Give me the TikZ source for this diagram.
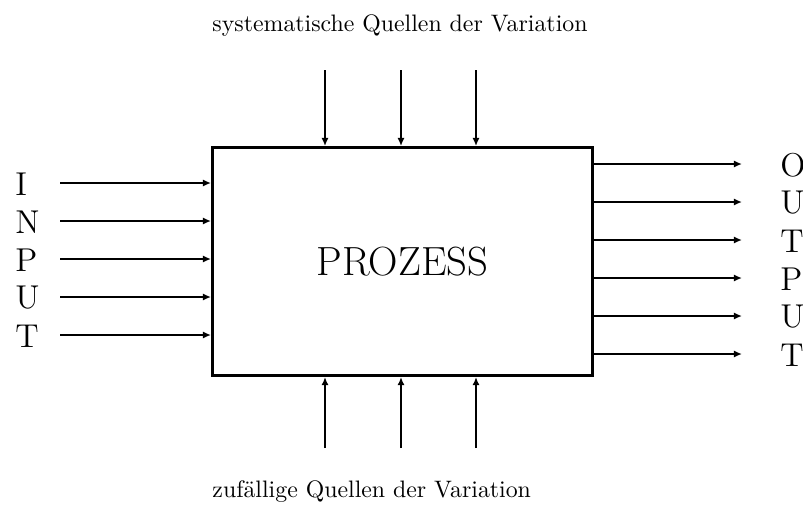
\documentclass[tikz,border=0pt]{standalone}
\usetikzlibrary{arrows.meta}
\begin{document}
\begin{tikzpicture}[x=0.424pt,y=-0.424pt,
  arr/.style={line width=0.85pt,-{Latex[length=3.4pt,width=3pt]}},
  lbl/.style={inner sep=0pt,anchor=west,font=\fontsize{14}{16}\selectfont},
  captxt/.style={inner sep=0pt,anchor=west,font=\fontsize{10.1}{12}\selectfont}]
\useasboundingbox (0,0) rectangle (803,508);
\node[draw,line width=1.3pt,minimum width=380*0.424pt,minimum height=228*0.424pt,inner sep=0pt,anchor=north west,font=\fontsize{17.28}{20}\selectfont] (box) at (211,146) {PROZESS};
\node[captxt] (top) at (212,26) {systematische Quellen der Variation};
\node[captxt] (bot) at (212,492) {zufällige Quellen der Variation};
% inputs
\foreach \l/\y [count=\i] in {I/183,N/221,P/259,U/297,T/335}{
  \node[lbl] (in\i) at (15,\y+1) {\l};
  \coordinate (is\i) at (60,\y);
  \draw[arr] (is\i) -- (is\i -| box.west);
}
% outputs
\foreach \l/\y [count=\i] in {O/164,U/202,T/240,P/278,U/316,T/354}{
  \node[lbl] (out\i) at (780,\y+1) {\l};
  \coordinate (oe\i) at (742,\y);
  \draw[arr] (oe\i -| box.east) -- (oe\i);
}
% top and bottom
\foreach \x [count=\i] in {325,401,476}{
  \coordinate (ts\i) at (\x,70);
  \draw[arr] (ts\i) -- (ts\i |- box.north);
  \coordinate (bs\i) at (\x,448);
  \draw[arr] (bs\i) -- (bs\i |- box.south);
}
\end{tikzpicture}
\end{document}
